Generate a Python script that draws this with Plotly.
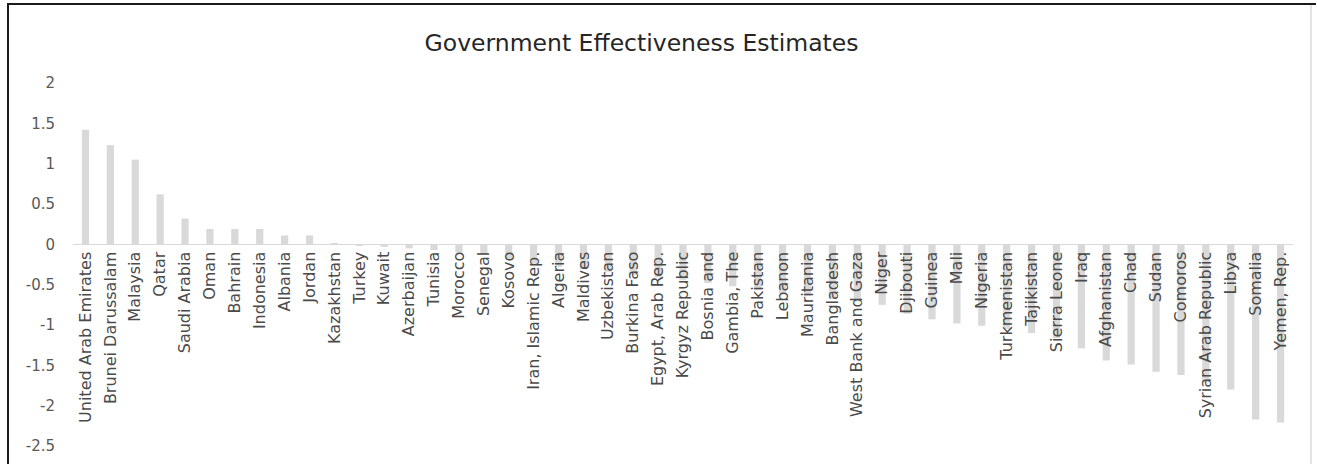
import plotly.graph_objects as go

countries = [
    "United Arab Emirates", "Brunei Darussalam", "Malaysia", "Qatar", "Saudi Arabia",
    "Oman", "Bahrain", "Indonesia", "Albania", "Jordan", "Kazakhstan", "Turkey",
    "Kuwait", "Azerbaijan", "Tunisia", "Morocco", "Senegal", "Kosovo",
    "Iran, Islamic Rep.", "Algeria", "Maldives", "Uzbekistan", "Burkina Faso",
    "Egypt, Arab Rep.", "Kyrgyz Republic", "Bosnia and", "Gambia, The", "Pakistan",
    "Lebanon", "Mauritania", "Bangladesh", "West Bank and Gaza", "Niger", "Djibouti",
    "Guinea", "Mali", "Nigeria", "Turkmenistan", "Tajikistan", "Sierra Leone", "Iraq",
    "Afghanistan", "Chad", "Sudan", "Comoros", "Syrian Arab Republic", "Libya",
    "Somalia", "Yemen, Rep.",
]
estimates = [
    1.42, 1.23, 1.05, 0.62, 0.32,
    0.19, 0.19, 0.19, 0.11, 0.11, 0.01, -0.01,
    -0.03, -0.05, -0.07, -0.10, -0.12, -0.18,
    -0.24, -0.28, -0.31, -0.34, -0.38,
    -0.41, -0.44, -0.48, -0.52, -0.57,
    -0.61, -0.64, -0.68, -0.71, -0.75, -0.86,
    -0.93, -0.98, -1.01, -1.05, -1.10, -1.16, -1.29,
    -1.44, -1.49, -1.58, -1.62, -1.71, -1.80,
    -2.17, -2.21,
]
y_ticks = [-2.5, -2, -1.5, -1, -0.5, 0, 0.5, 1, 1.5, 2]
y_labels = ["-2.5", "-2", "-1.5", "-1", "-0.5", "0", "0.5", "1", "1.5", "2"]

W, H = 1317, 464
L, R, T, B = 73, 24, 83, 18
y_min, y_max = -2.5, 2.0

FONT = "DejaVu Sans, sans-serif"

fig = go.Figure(go.Bar(
    x=countries, y=estimates,
    marker=dict(color="#d9d9d9", line=dict(width=0)),
))

zero_pos = (0 - y_min) / (y_max - y_min)

fig.update_layout(
    template="none",
    width=W, height=H,
    margin=dict(l=L, r=R, t=T, b=B, autoexpand=False),
    paper_bgcolor="white", plot_bgcolor="white",
    bargap=0.71,
    showlegend=False,
    title=dict(
        text="Government Effectiveness Estimates",
        x=0.466, xref="paper", xanchor="center",
        y=1 - 43 / H, yref="container", yanchor="middle",
        font=dict(family=FONT, size=23.5, color="#262626"),
    ),
    xaxis=dict(
        type="category",
        anchor="free", position=zero_pos,
        showline=True, linecolor="#d9d9d9", linewidth=1,
        showgrid=False, ticks="", zeroline=False,
        tickangle=-90,
        tickfont=dict(family=FONT, size=16, color="#4a4a4a"),
        automargin=False,
        layer="above traces",
    ),
    yaxis=dict(
        range=[y_min, y_max],
        tickmode="array", tickvals=y_ticks, ticktext=y_labels,
        showgrid=False, zeroline=False, showline=False, ticks="",
        tickfont=dict(family=FONT, size=15, color="#595959"),
        ticklabelstandoff=17,
        automargin=False,
    ),
)

pw = W - L - R
ph = H - T - B
def px_x(p):
    return (p - L) / pw
def px_y(p):
    return (H - B - p) / ph

# chart frame
fig.add_shape(type="line", xref="paper", yref="paper",
              x0=px_x(8), x1=px_x(8), y0=px_y(4), y1=px_y(470),
              line=dict(color="#1a1a1a", width=2))
fig.add_shape(type="line", xref="paper", yref="paper",
              x0=px_x(7), x1=px_x(1316), y0=px_y(4), y1=px_y(4),
              line=dict(color="#1a1a1a", width=2))
fig.add_shape(type="line", xref="paper", yref="paper",
              x0=px_x(1311), x1=px_x(1311), y0=px_y(5), y1=px_y(470),
              line=dict(color="#c8c8c8", width=1))

fig.write_html("out.html")
